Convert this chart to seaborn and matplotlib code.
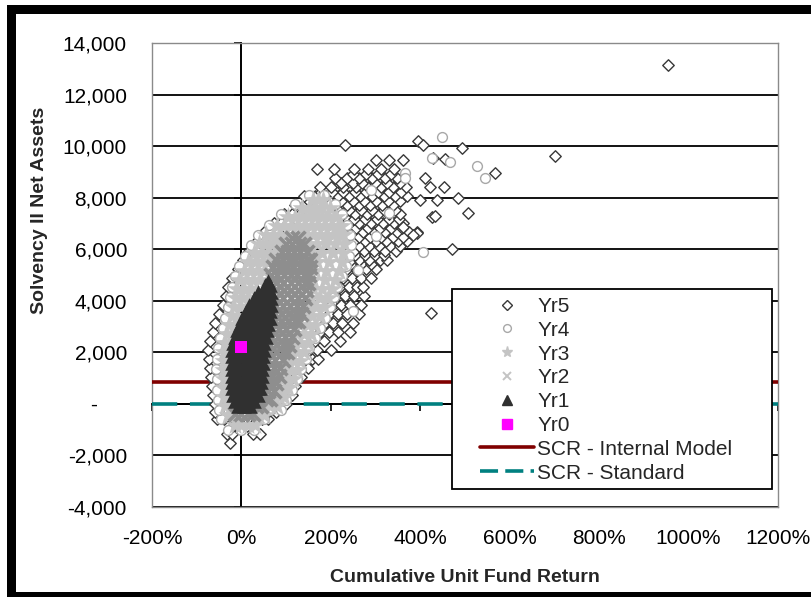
import matplotlib
matplotlib.use("Agg")
import matplotlib.pyplot as plt
import seaborn as sns
import pandas as pd
from matplotlib.patches import Rectangle
from matplotlib.lines import Line2D

# ---------------- values ----------------
# x = cumulative unit fund return (%), y = Solvency II net assets
# each *_rows dict: {net assets level: [returns of the points seen on that level]}
yr0_x = [0]
yr0_y = [2200]

yr1_rows = {
    -100: [-8, 6, 20],
    100: [-14, 0, 14, 28],
    350: [-18, -4, 10, 24, 36],
    600: [-20, -6, 8, 22, 36, 42],
    850: [-21, -7, 7, 21, 35, 44],
    1100: [-22, -8, 6, 20, 34, 46],
    1350: [-22, -8, 6, 20, 34, 47],
    1600: [-22, -8, 6, 20, 34, 48],
    1850: [-22, -8, 6, 20, 34, 49],
    2100: [-21, -7, 7, 21, 35, 50],
    2350: [-19, -5, 9, 23, 37, 51],
    2600: [-15, -1, 13, 27, 41, 54],
    2850: [-10, 4, 18, 32, 46, 57],
    3100: [-4, 10, 24, 38, 52, 60],
    3350: [2, 16, 30, 44, 58, 63],
    3600: [10, 24, 38, 52, 64],
    3850: [18, 32, 46, 60, 66],
    4100: [28, 42, 56, 67],
    4350: [38, 52, 66],
    4600: [52, 64],
    4750: [60],
}

yr2_rows = {
    -400: [-14, 0, 14, 26],
    -100: [32, 44],
    200: [40, 54, 64],
    500: [46, 60, 72],
    800: [50, 64, 77],
    1100: [54, 68, 83],
    1400: [58, 72, 87],
    1700: [60, 76, 93],
    2000: [62, 78, 94, 101],
    2300: [64, 80, 96, 107],
    2600: [66, 82, 98, 113],
    2900: [68, 84, 100, 117],
    3200: [72, 88, 104, 120, 126],
    3500: [75, 91, 107, 123, 133],
    3800: [77, 93, 109, 125, 138],
    4100: [78, 94, 110, 126, 142],
    4400: [79, 95, 111, 127, 145],
    4700: [78, 94, 110, 126, 142, 149],
    5000: [66, 80, 95, 110, 125, 140, 151],
    5300: [70, 85, 100, 115, 130, 145, 153],
    5600: [78, 92, 106, 120, 134, 148, 153],
    5900: [90, 104, 118, 132, 146],
    6200: [100, 114, 128, 141],
    6450: [112, 126],
}

yr3_rows = {
    -800: [-15, 0, 15, 30],
    -450: [-30, -16, 36, 50],
    -100: [-36, -24, 50, 65, 80],
    250: [-38, -28, 72, 85, 95],
    600: [-40, -30, 82, 95, 105],
    950: [-40, -30, 92, 104, 115],
    1300: [-40, -30, 98, 111, 124],
    1650: [-40, -30, 104, 118, 132],
    2000: [-39, -29, 110, 125, 140],
    2350: [-37, -27, 116, 132, 148],
    2700: [-32, -22, 124, 140, 156],
    3050: [-27, -15, 132, 148, 165],
    3400: [-22, -9, 140, 157, 175],
    3750: [-16, -2, 148, 166, 185],
    4100: [-12, 4, 18, 156, 175, 193],
    4450: [-10, 6, 22, 160, 180, 202],
    4800: [-5, 10, 25, 40, 160, 186, 210],
    5150: [5, 20, 35, 50, 165, 190, 218],
    5500: [15, 30, 45, 60, 168, 196, 224],
    5850: [28, 43, 58, 73, 160, 180, 204, 228],
    6200: [40, 55, 70, 85, 150, 170, 190, 210, 230],
    6550: [55, 70, 85, 100, 115, 130, 145, 160, 175, 190, 205, 220, 228],
    6900: [80, 95, 110, 125, 140, 155, 170, 185, 200, 215, 222],
    7250: [105, 120, 135, 150, 165, 180, 195, 212],
    7600: [135, 150, 165, 180, 198],
    7900: [160, 172, 182],
}

yr4_rows = {
    -1000: [-30, 0, 28],
    -600: [-45, 35, 50],
    -250: [-50, 65, 88],
    150: [-53, 100],
    550: [-54, 112],
    950: [-55, 124],
    1350: [-56, 134],
    1750: [-55, 144],
    2150: [-53, 152],
    2550: [-48, 164],
    2950: [-42, 176],
    3350: [-36, 188],
    3750: [-30, 198],
    4150: [-25, 206],
    4550: [-22, 214],
    4950: [-15, 224],
    5350: [-5, 234],
    5750: [8, 240],
    6150: [22, 244],
    6550: [38, 242],
    6950: [62, 236],
    7350: [88, 226],
    7750: [120, 210],
    8100: [150, 185],
}
yr4_extra_x = [448, 426, 526, 545, 366, 366, 407, 466, 260, 300, 330, 290, 250]
yr4_extra_y = [10340, 9530, 9230, 8750, 8950, 8750, 5900, 9400, 5200, 6500, 7400, 8300, 3600]

yr5_rows = {
    -1500: [-25],
    -1150: [-33, -20, 25, 42],
    -850: [-18, 12],
    -600: [-55, -40, 12, 45, 60],
    -300: [-58, 60, 78],
    0: [-60, 85, 100],
    350: [-64, 96, 112],
    700: [-66, 108, 120],
    1050: [-68, 120, 134],
    1400: [-70, 132, 148],
    1750: [-72, 142, 158, 172],
    2100: [-74, 152, 170, 200],
    2450: [-70, 164, 184, 220],
    2800: [-63, 176, 196, 215, 243],
    3150: [-58, 186, 205, 225, 250],
    3500: [-50, 196, 215, 235, 262],
    3850: [-42, 204, 222, 242, 268],
    4200: [-35, 212, 232, 252, 275],
    4550: [-29, 220, 240, 258, 272],
    4900: [-20, 228, 248, 268, 290],
    5250: [-8, 236, 256, 278, 302],
    5425: [246, 268, 290],
    5600: [4, 244, 264, 286, 310, 325],
    5775: [255, 276, 298, 318],
    5950: [18, 34, 252, 274, 296, 320, 345],
    6125: [262, 285, 308, 332, 355],
    6300: [34, 50, 252, 276, 300, 324, 350, 370],
    6475: [262, 288, 312, 338, 362],
    6650: [50, 66, 82, 248, 272, 296, 322, 348, 375, 392],
    6825: [256, 284, 310, 334, 358],
    7000: [72, 88, 104, 240, 264, 290, 316, 342, 362],
    7175: [236, 252, 277, 303, 329, 352],
    7350: [95, 112, 130, 228, 254, 280, 306, 330, 355],
    7525: [215, 241, 267, 293, 318, 343],
    7700: [120, 140, 160, 180, 210, 236, 262, 288, 314, 340],
    7875: [152, 172, 196, 222, 249, 275, 301, 327, 355],
    8050: [140, 165, 190, 215, 240, 266, 292, 318, 344, 370],
    8225: [178, 202, 228, 253, 279, 305, 331, 357],
    8400: [175, 200, 228, 256, 284, 312, 340, 368, 422, 452],
    8575: [222, 250, 270, 298, 326, 354],
    8750: [209, 236, 264, 292, 320, 348, 411],
    8925: [250, 278, 306, 334],
    9100: [168, 206, 252, 282, 312, 342],
    9450: [300, 330, 362],
}
yr5_extra_x = [232, 396, 407, 493, 701, 566, 507, 470, 423, 955, 392, 384,
               399, 437, 485, 426, 433, 455, 429, 362]
yr5_extra_y = [10040, 10210, 10040, 9910, 9620, 8970, 7420, 6000, 3540, 13150, 6620, 6550,
               7910, 7910, 7980, 7240, 7290, 9490, 9540, 6870]

scr_internal_model = 850
scr_standard = 0

x_ticks = [-200, 0, 200, 400, 600, 800, 1000, 1200]
x_tick_labels = ["-200%", "0%", "200%", "400%", "600%", "800%", "1000%", "1200%"]
y_ticks = [-4000, -2000, 0, 2000, 4000, 6000, 8000, 10000, 12000, 14000]
y_tick_labels = ["-4,000", "-2,000", "-     ", "2,000", "4,000", "6,000", "8,000",
                 "10,000", "12,000", "14,000"]
x_title = "Cumulative Unit Fund Return"
y_title = "Solvency II Net Assets"
series_names = ["Yr5", "Yr4", "Yr3", "Yr2", "Yr1", "Yr0"]
line_names = ["SCR - Internal Model", "SCR - Standard"]


def rows_frame(rows, extra_x=(), extra_y=()):
    xs, ys = [], []
    for level, rets in rows.items():
        xs.extend(rets)
        ys.extend([level] * len(rets))
    xs.extend(extra_x)
    ys.extend(extra_y)
    return pd.DataFrame({"ret": xs, "assets": ys})


df5 = rows_frame(yr5_rows, yr5_extra_x, yr5_extra_y)
df4 = rows_frame(yr4_rows, yr4_extra_x, yr4_extra_y)
df3 = rows_frame(yr3_rows)
df2 = rows_frame(yr2_rows)
df1 = rows_frame(yr1_rows)
df0 = pd.DataFrame({"ret": yr0_x, "assets": yr0_y})

# ---------------- style ----------------
sns.set_style("white")
plt.rcParams["font.family"] = ["Liberation Sans", "DejaVu Sans"]

fig = plt.figure(figsize=(8.11, 5.97), dpi=100)
fig.patch.set_facecolor("white")
ax = fig.add_axes([152 / 811, 1 - 507 / 597, 626 / 811, 464 / 597])
ax.set_facecolor("white")

c5, c4, c3, c2, c1, c0 = "#383838", "#a8a8a8", "#c4c4c4", "#8e8e8e", "#303030", "#ff00ff"
c_im, c_std = "#800000", "#008080"

sns.scatterplot(data=df5, x="ret", y="assets", marker="D", s=34, color="white",
                edgecolor=c5, linewidth=1.0, ax=ax, zorder=3, legend=False)
sns.scatterplot(data=df4, x="ret", y="assets", marker="o", s=50, color="white",
                edgecolor=c4, linewidth=1.0, ax=ax, zorder=4, legend=False)
sns.scatterplot(data=df3, x="ret", y="assets", marker="*", s=230, color=c3,
                linewidth=0, ax=ax, zorder=5, legend=False)
sns.scatterplot(data=df2, x="ret", y="assets", marker="x", s=100, color=c2,
                linewidth=2.6, ax=ax, zorder=6, legend=False)
sns.scatterplot(data=df1, x="ret", y="assets", marker="^", s=110, color=c1,
                linewidth=0, ax=ax, zorder=7, legend=False)
sns.scatterplot(data=df0, x="ret", y="assets", marker="s", s=85, color=c0,
                linewidth=0, ax=ax, zorder=8, legend=False)

ax.axhline(scr_internal_model, color=c_im, lw=2.6, zorder=2.6)
ax.axhline(scr_standard, color=c_std, lw=2.6, dashes=(7, 3.5), zorder=2.7)

ax.set_xlim(-200, 1200)
ax.set_ylim(-4000, 14000)
ax.set_xticks(x_ticks, x_tick_labels)
ax.set_yticks(y_ticks, y_tick_labels)
ax.tick_params(axis="both", length=0, labelsize=15, colors="black")
ax.tick_params(axis="x", pad=16)
ax.tick_params(axis="y", pad=18)
ax.set_axisbelow(True)
ax.yaxis.grid(True, color="black", lw=1.3)
ax.xaxis.grid(False)
for sp in ax.spines.values():
    sp.set_color("#8a8a8a")
    sp.set_linewidth(1.0)

ax.set_xlabel(x_title, fontsize=14, fontweight="bold")
ax.set_ylabel(y_title, fontsize=14, fontweight="bold")
ax.xaxis.set_label_coords(0.5, -0.151)
ax.yaxis.set_label_coords(-0.179, 0.64)
ax.xaxis.label.set_va("center")
ax.yaxis.label.set_va("center")

# axis lines crossing at zero
secx = ax.secondary_xaxis(0, transform=ax.transData)
secx.set_xticks(x_ticks)
secx.tick_params(length=5, width=1.2, direction="out", labelbottom=False, color="black")
secx.spines["bottom"].set_color("black")
secx.spines["bottom"].set_linewidth(1.4)
secy = ax.secondary_yaxis(0, transform=ax.transData)
secy.set_yticks(y_ticks)
secy.tick_params(length=5, width=1.2, direction="out", labelleft=False, color="black")
secy.spines["left"].set_color("black")
secy.spines["left"].set_linewidth(1.4)

# legend (handles styled like the small legend keys of the original)
handles = [
    Line2D([], [], ls="none", marker="D", ms=5.2, mfc="white", mec=c5, mew=1.0),
    Line2D([], [], ls="none", marker="o", ms=5.6, mfc="white", mec=c4, mew=1.0),
    Line2D([], [], ls="none", marker="*", ms=8, mfc=c3, mec=c3),
    Line2D([], [], ls="none", marker="x", ms=5.5, mec=c3, mew=1.4),
    Line2D([], [], ls="none", marker="^", ms=6.5, mfc=c1, mec=c1),
    Line2D([], [], ls="none", marker="s", ms=7, mfc=c0, mec=c0),
    Line2D([], [], color=c_im, lw=2.6),
    Line2D([], [], color=c_std, lw=2.6, dashes=(5, 2)),
]
labels = series_names + line_names

fig.patches.append(Rectangle((452 / 811, 1 - 489 / 597), 320 / 811, 200 / 597,
                             transform=fig.transFigure, facecolor="white",
                             edgecolor="black", lw=1.3, zorder=3))
leg = fig.legend(handles, labels, loc="upper left",
                 bbox_to_anchor=(480 / 811, 1 - 297 / 597), frameon=False,
                 fontsize=15, handlelength=2.6, handletextpad=0.15,
                 labelspacing=0.23, borderpad=0, borderaxespad=0)
leg.set_zorder(6)

# picture frame
for (x0, y0, w, h) in [(7 / 811, 0, 9 / 811, 1 - 5 / 597),
                       (7 / 811, 1 - 14 / 597, 1, 9 / 597),
                       (7 / 811, 0, 1, 5.5 / 597)]:
    fig.patches.append(Rectangle((x0, y0), w, h, transform=fig.transFigure,
                                 facecolor="black", edgecolor="none", zorder=7))

fig.savefig("out.png", dpi=100, facecolor="white")
